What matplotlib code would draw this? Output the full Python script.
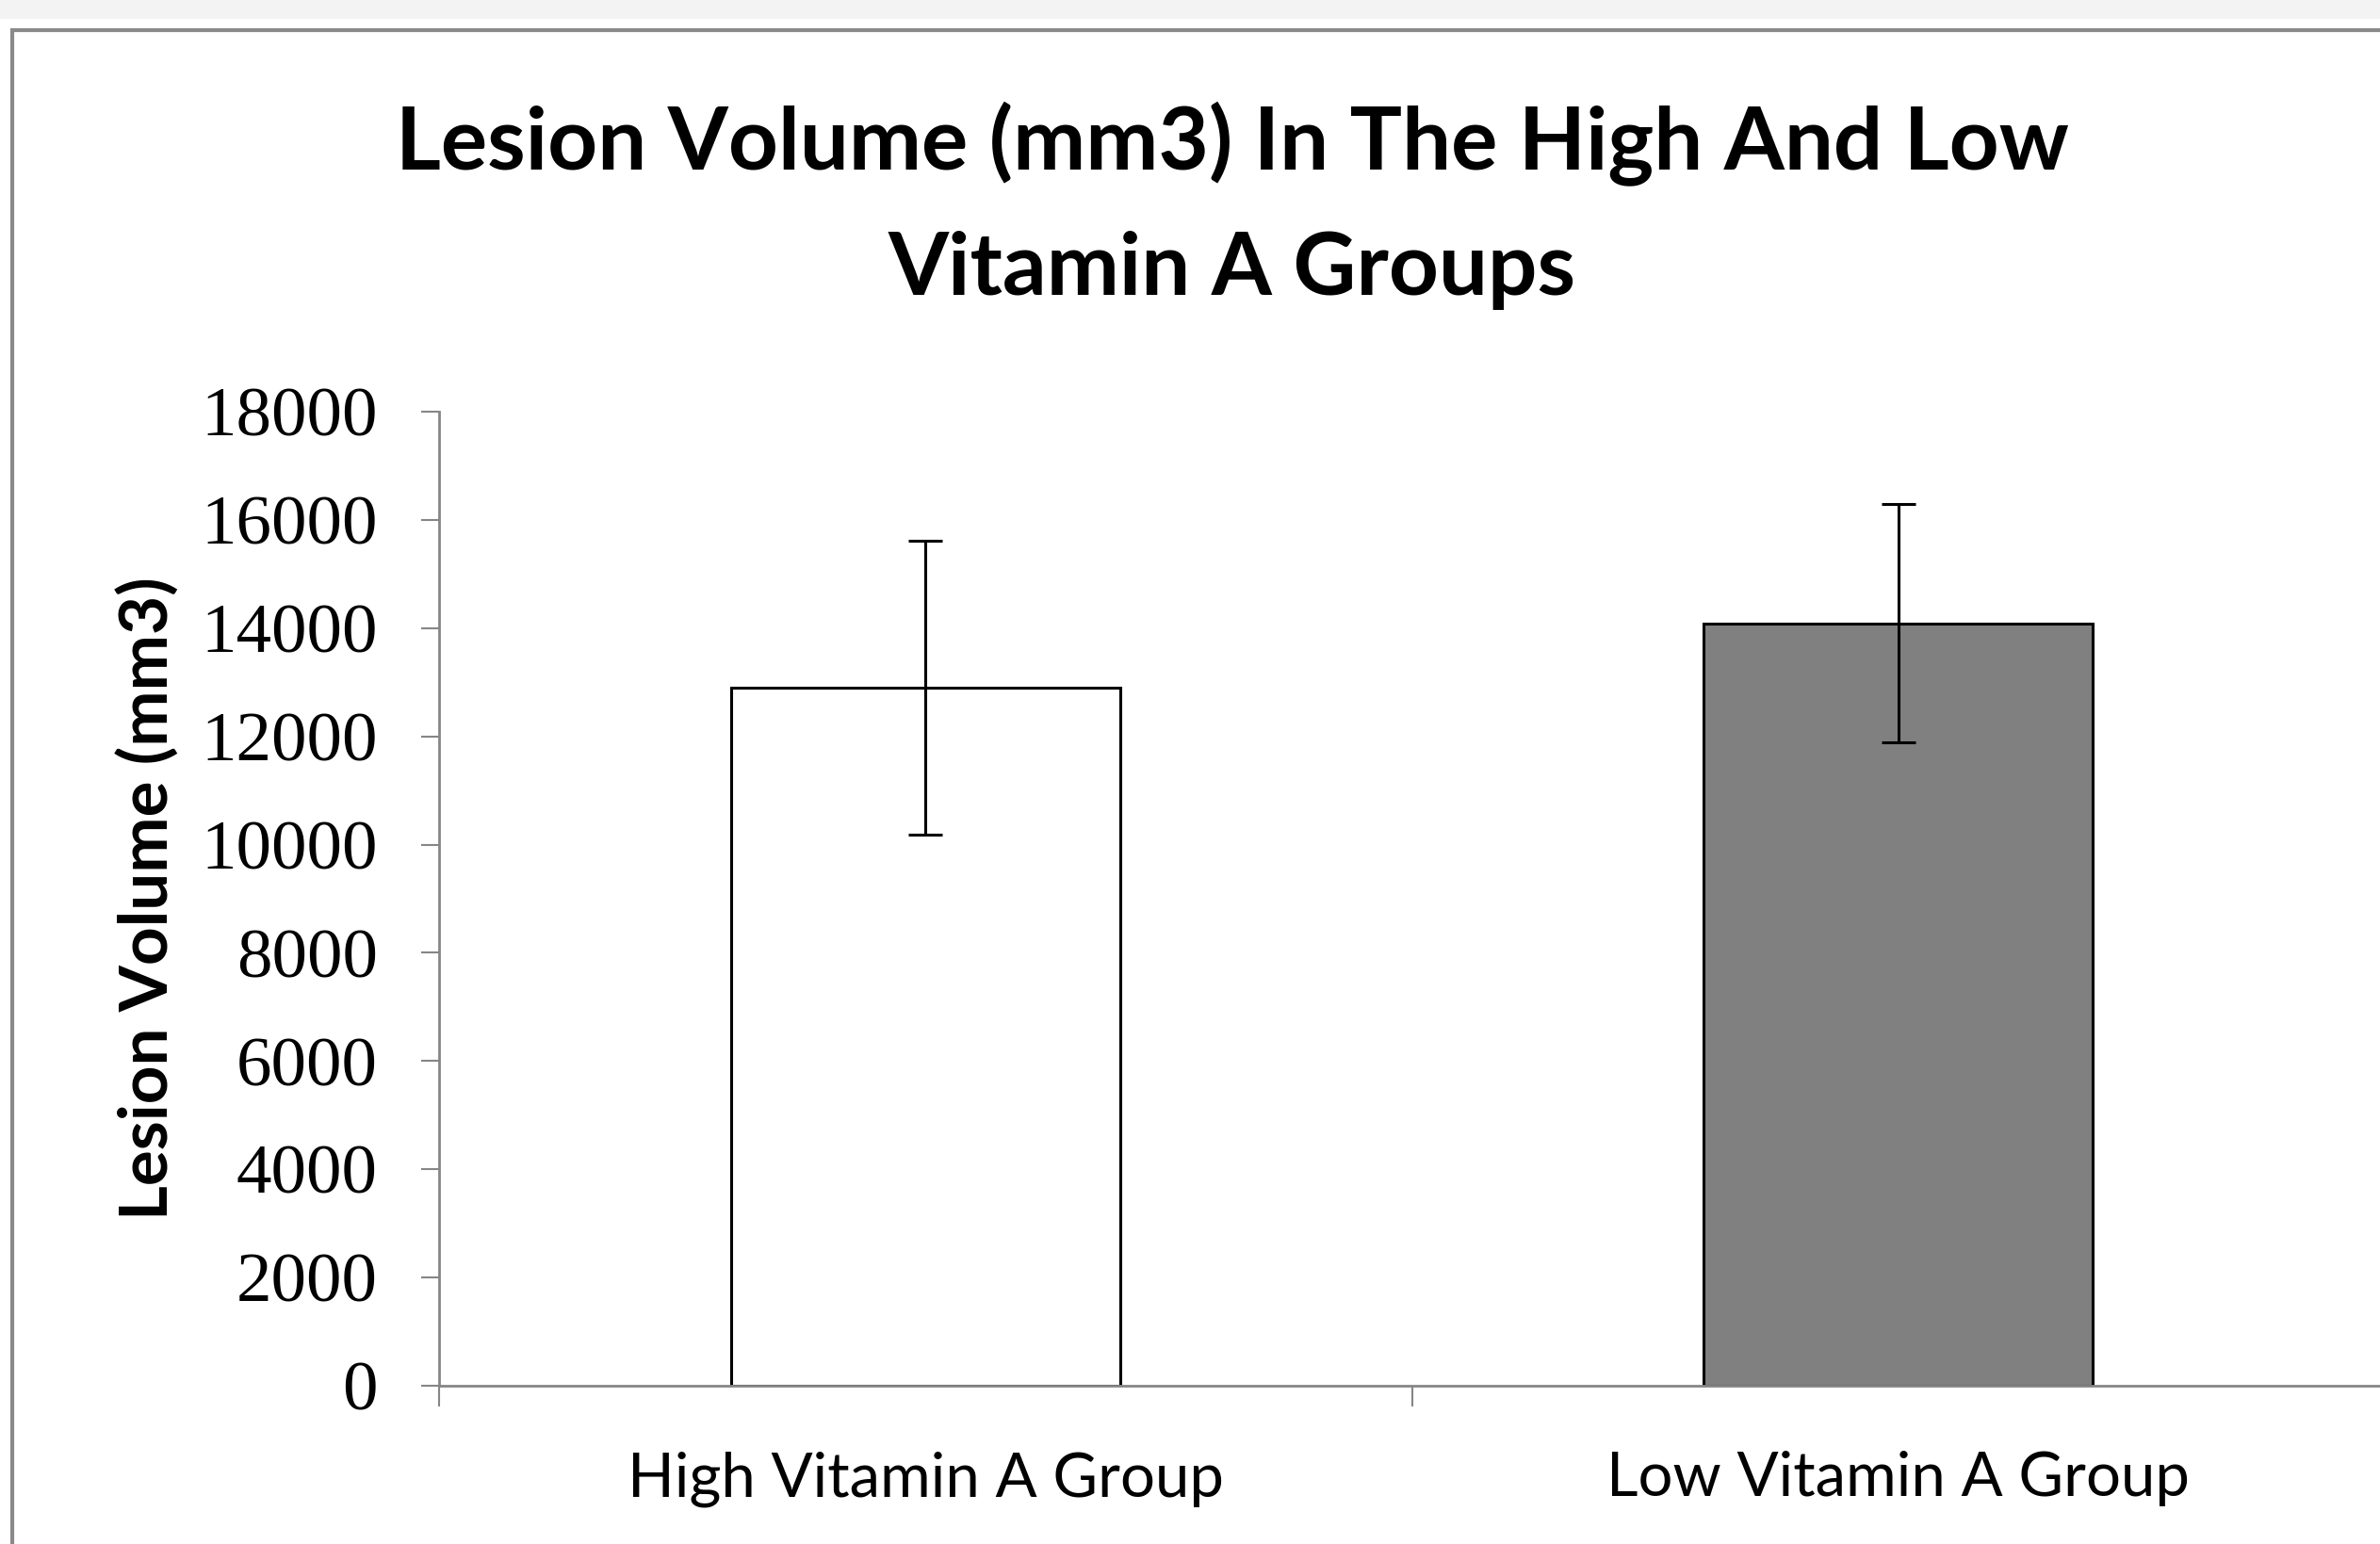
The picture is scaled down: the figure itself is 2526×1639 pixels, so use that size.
import matplotlib
matplotlib.use("Agg")
import matplotlib.pyplot as plt
from matplotlib.patches import Rectangle

categories = ["High Vitamin A Group", "Low Vitamin A Group"]
values = [12900, 14090]
errors = [2720, 2205]
bar_colors = ["#ffffff", "#808080"]
yticks = [0, 2000, 4000, 6000, 8000, 10000, 12000, 14000, 16000, 18000]

W, H = 2526, 1639
fig = plt.figure(figsize=(W / 100, H / 100), dpi=100)
fig.patch.set_facecolor("white")

# top light gray strip and chart frame
fig.patches.append(Rectangle((0, 1 - 20 / H), 1, 20 / H, transform=fig.transFigure,
                             facecolor="#f3f3f3", edgecolor="none", zorder=0))
fig.patches.append(Rectangle((13 / W, -0.1), 1.2, 1 - 32 / H + 0.1, transform=fig.transFigure,
                             facecolor="none", edgecolor="#8a8a8a", linewidth=3, zorder=1))

ax = fig.add_axes([466 / W, 1 - 1471 / H, (2531 - 466) / W, (1471 - 437) / H])
x = list(range(len(categories)))
ax.bar(x, values, width=0.4, color=bar_colors, edgecolor="black", linewidth=2.2, zorder=2)
ax.errorbar(x, values, yerr=errors, fmt="none", ecolor="black", elinewidth=2.2,
            capsize=13, capthick=2.2, zorder=3)

ax.set_xlim(-0.5, 1.5)
ax.set_ylim(0, 18000)
ax.set_yticks(yticks)
ax.set_yticklabels([str(v) for v in yticks], fontfamily="Liberation Serif", fontsize=54)
ax.set_xticks([-0.5, 0.5, 1.5])
ax.set_xticklabels([])
ax.set_xticks(x, minor=True)
ax.set_xticklabels(categories, minor=True, fontfamily="Lato", fontsize=47)
ax.tick_params(axis="x", which="minor", length=0, pad=50)
ax.tick_params(axis="x", which="major", length=16, width=1.5, color="#868686")
ax.tick_params(axis="y", which="major", length=14, width=1.5, color="#868686", pad=33)

for s in ["top", "right"]:
    ax.spines[s].set_visible(False)
for s in ["left", "bottom"]:
    ax.spines[s].set_color("#868686")
    ax.spines[s].set_linewidth(2)
ax.spines["bottom"].set_zorder(4)

ax.set_ylabel("Lesion Volume (mm3)", fontfamily="Lato", fontweight="bold", fontsize=51)
ax.yaxis.set_label_coords(-(466 - 190) / (2531 - 466), 0.5)

fig.text(1308 / W, 1 - 153 / H, "Lesion Volume (mm3) In The High And Low",
         ha="center", va="center", fontfamily="Lato", fontweight="bold", fontsize=66.5)
fig.text(1308 / W, 1 - 287 / H, "Vitamin A Groups",
         ha="center", va="center", fontfamily="Lato", fontweight="bold", fontsize=66.5)

fig.savefig("out.png", dpi=100)
